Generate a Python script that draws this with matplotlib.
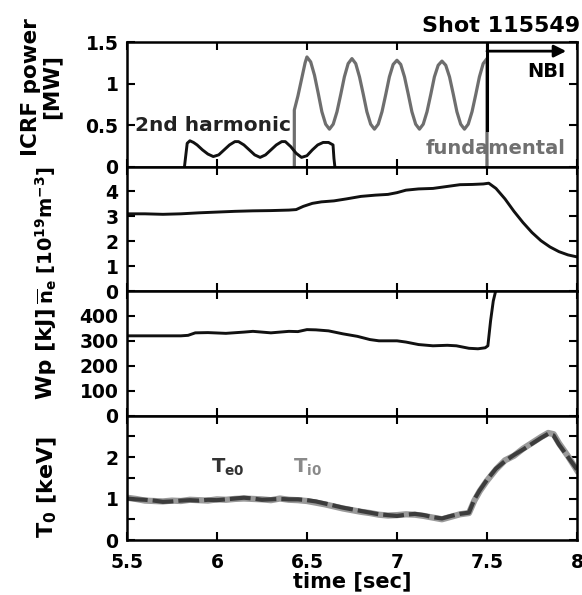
import numpy as np
import matplotlib.pyplot as plt

plt.rcParams['font.family'] = 'DejaVu Sans'
plt.rcParams['font.weight'] = 'bold'
plt.rcParams['axes.labelweight'] = 'bold'
plt.rcParams['mathtext.default'] = 'bf'

# ---- ICRF power [MW] ----
t_2nd = [5.82, 5.835, 5.85, 5.87, 5.89, 5.92, 5.95, 5.98, 6.01, 6.04, 6.07, 6.10,
         6.12, 6.15, 6.18, 6.21, 6.24, 6.27, 6.30, 6.33, 6.36, 6.38, 6.41, 6.44,
         6.47, 6.50, 6.53, 6.56, 6.59, 6.62, 6.645, 6.65, 6.655]
p_2nd = [0.0, 0.28, 0.31, 0.29, 0.26, 0.20, 0.15, 0.12, 0.14, 0.20, 0.26, 0.30,
         0.30, 0.26, 0.20, 0.14, 0.11, 0.14, 0.20, 0.26, 0.30, 0.30, 0.24, 0.16,
         0.11, 0.13, 0.20, 0.26, 0.29, 0.29, 0.26, 0.10, 0.0]

t_fund = [6.43, 6.43, 6.45, 6.47, 6.49, 6.50,
          6.521, 6.542, 6.563, 6.583, 6.604, 6.625, 6.646, 6.667, 6.688, 6.708, 6.729, 6.750,
          6.771, 6.792, 6.813, 6.833, 6.854, 6.875, 6.896, 6.917, 6.938, 6.958, 6.979, 7.000,
          7.021, 7.042, 7.063, 7.083, 7.104, 7.125, 7.146, 7.167, 7.188, 7.208, 7.229, 7.250,
          7.271, 7.292, 7.313, 7.333, 7.354, 7.375, 7.396, 7.417, 7.438, 7.458, 7.479, 7.500,
          7.500]
p_fund = [0.0, 0.68, 0.85, 1.05, 1.25, 1.32,
          1.26, 1.10, 0.88, 0.66, 0.51, 0.45, 0.51, 0.66, 0.87, 1.08, 1.24, 1.30,
          1.24, 1.08, 0.87, 0.66, 0.51, 0.45, 0.51, 0.66, 0.87, 1.08, 1.23, 1.28,
          1.23, 1.08, 0.87, 0.66, 0.51, 0.45, 0.51, 0.66, 0.87, 1.08, 1.22, 1.27,
          1.22, 1.08, 0.87, 0.66, 0.51, 0.45, 0.51, 0.66, 0.87, 1.08, 1.24, 1.30,
          0.0]

nbi_start = 7.5

# ---- line averaged density [1e19 m^-3] ----
t_ne = [5.5, 5.6, 5.7, 5.8, 5.9, 6.0, 6.1, 6.2, 6.3, 6.4, 6.44, 6.48, 6.53, 6.58,
        6.65, 6.72, 6.8, 6.88, 6.95, 7.0, 7.05, 7.12, 7.2, 7.28, 7.35, 7.42, 7.48,
        7.51, 7.55, 7.6, 7.65, 7.7, 7.75, 7.8, 7.85, 7.9, 7.95, 8.0]
ne = [3.10, 3.10, 3.08, 3.10, 3.14, 3.17, 3.20, 3.22, 3.23, 3.25, 3.27, 3.40, 3.52, 3.58,
      3.62, 3.70, 3.80, 3.85, 3.88, 3.95, 4.05, 4.10, 4.12, 4.20, 4.27, 4.28, 4.30,
      4.33, 4.12, 3.70, 3.20, 2.75, 2.35, 2.02, 1.77, 1.58, 1.45, 1.37]

# ---- stored energy [kJ] ----
t_wp = [5.5, 5.6, 5.7, 5.8, 5.84, 5.88, 5.95, 6.05, 6.15, 6.2, 6.3, 6.4, 6.45, 6.5,
        6.55, 6.62, 6.7, 6.78, 6.85, 6.9, 7.0, 7.05, 7.12, 7.2, 7.28, 7.33, 7.4,
        7.45, 7.49, 7.505, 7.52, 7.535, 7.55]
wp = [320, 320, 320, 320, 322, 332, 333, 330, 335, 338, 332, 338, 337, 345,
      344, 340, 328, 318, 305, 300, 300, 295, 285, 280, 282, 280, 270,
      268, 272, 280, 380, 460, 505]

# ---- central temperatures [keV] ----
t_T = [5.5, 5.55, 5.6, 5.65, 5.7, 5.75, 5.8, 5.85, 5.9, 5.95, 6.0, 6.05, 6.1, 6.15,
       6.2, 6.25, 6.3, 6.35, 6.4, 6.45, 6.5, 6.55, 6.6, 6.65, 6.7, 6.75, 6.8, 6.85,
       6.9, 6.95, 7.0, 7.05, 7.1, 7.15, 7.2, 7.25, 7.3, 7.35, 7.4, 7.43, 7.46, 7.5,
       7.55, 7.6, 7.65, 7.7, 7.75, 7.8, 7.84, 7.87, 7.9, 7.95, 8.0]
Te0 = [1.00, 0.98, 0.97, 0.95, 0.92, 0.93, 0.95, 0.96, 0.95, 0.97, 0.96, 0.98, 1.00, 1.02,
       1.00, 0.97, 0.98, 0.99, 0.98, 0.98, 0.96, 0.93, 0.88, 0.83, 0.78, 0.74, 0.70, 0.66,
       0.62, 0.60, 0.58, 0.61, 0.63, 0.60, 0.55, 0.52, 0.58, 0.63, 0.66, 0.98, 1.20, 1.45,
       1.72, 1.90, 2.05, 2.18, 2.32, 2.46, 2.56, 2.52, 2.30, 2.00, 1.70]
Ti0 = [1.02, 0.99, 0.95, 0.94, 0.93, 0.95, 0.94, 0.97, 0.96, 0.95, 0.98, 0.97, 0.99, 1.00,
       0.99, 0.98, 0.96, 1.00, 0.97, 0.96, 0.94, 0.90, 0.86, 0.81, 0.76, 0.72, 0.68, 0.65,
       0.61, 0.59, 0.60, 0.62, 0.61, 0.58, 0.54, 0.50, 0.56, 0.62, 0.65, 0.95, 1.18, 1.43,
       1.70, 1.92, 2.03, 2.20, 2.34, 2.48, 2.58, 2.55, 2.33, 2.02, 1.68]

fig = plt.figure(figsize=(5.82, 5.95), dpi=100)
axs = fig.subplots(4, 1, sharex=True)
fig.subplots_adjust(left=0.218, right=0.9914, top=0.9294, bottom=0.0924, hspace=0)

for ax in axs:
    ax.set_xlim(5.5, 8)
    ax.set_xticks([5.5, 6, 6.5, 7, 7.5, 8])
    ax.tick_params(direction='in', top=True, right=True, length=6, width=1.5,
                   labelsize=13.5, pad=6)
    ax.tick_params(axis='x', pad=9)
    ax.tick_params(which='minor', direction='in', right=True, length=6, width=1.5)
    for s in ax.spines.values():
        s.set_linewidth(1.8)

# panel 1 : ICRF
ax = axs[0]
ax.plot(t_fund, p_fund, color='#6e6e6e', lw=2.3)
ax.plot(t_2nd, p_2nd, color='#111111', lw=2.1)
ax.plot([nbi_start, nbi_start], [0.44, 1.5], color='k', lw=2.2)
ax.annotate('', xy=(7.94, 1.39), xytext=(nbi_start, 1.39),
            arrowprops=dict(arrowstyle='-|>', color='k', lw=2, mutation_scale=18,
                            shrinkA=0, shrinkB=0))
ax.text(7.935, 1.15, 'NBI', ha='right', va='center', fontsize=14)
ax.text(7.935, 0.22, 'fundamental', ha='right', va='center', fontsize=14, color='#707070')
ax.text(5.545, 0.5, '2nd harmonic', ha='left', va='center', fontsize=14.5, color='#222222')
ax.set_ylim(0, 1.5)
ax.set_yticks([0, 0.5, 1, 1.5])
ax.set_yticklabels(['0', '0.5', '1', '1.5'])
ax.set_ylabel('ICRF power\n[MW]', fontsize=15.5, va='center', linespacing=1.0)
ax.yaxis.set_label_coords(-0.19, 0.64)

# panel 2 : density
ax = axs[1]
ax.plot(t_ne, ne, color='#111111', lw=2.1)
ax.set_ylim(0, 5)
ax.set_yticks([0, 1, 2, 3, 4])
ax.set_ylabel(r'$\overline{n}_e$ [10$^{19}$m$^{-3}$]', fontsize=14, va='center')
ax.yaxis.set_label_coords(-0.178, 0.45)

# panel 3 : Wp
ax = axs[2]
ax.plot(t_wp, wp, color='#111111', lw=2.1)
ax.set_ylim(0, 500)
ax.set_yticks([0, 100, 200, 300, 400])
ax.set_ylabel('Wp [kJ]', fontsize=16, va='center')
ax.yaxis.set_label_coords(-0.18, 0.5)

# panel 4 : temperatures
ax = axs[3]
ax.plot(t_T, Ti0, color='#9a9a9a', lw=4.5)
ax.plot(t_T, Te0, color='#3c3c3c', lw=3.0, dashes=(5, 1.2))
ax.text(5.97, 1.75, r'T$_{e0}$', fontsize=14, color='#333333', va='center')
ax.text(6.42, 1.75, r'T$_{i0}$', fontsize=14, color='#8a8a8a', va='center')
ax.set_ylim(0, 3)
ax.set_yticks([0, 1, 2])
ax.set_yticks([0.5, 1.5, 2.5], minor=True)
ax.set_xticklabels(['5.5', '6', '6.5', '7', '7.5', '8'])
ax.set_ylabel(r'T$_0$ [keV]', fontsize=16, va='center')
ax.yaxis.set_label_coords(-0.176, 0.43)
ax.set_xlabel('time [sec]', fontsize=15, labelpad=0)

fig.text(0.997, 0.956, 'Shot 115549', ha='right', va='center', fontsize=16)

fig.savefig('out.png', dpi=100)
